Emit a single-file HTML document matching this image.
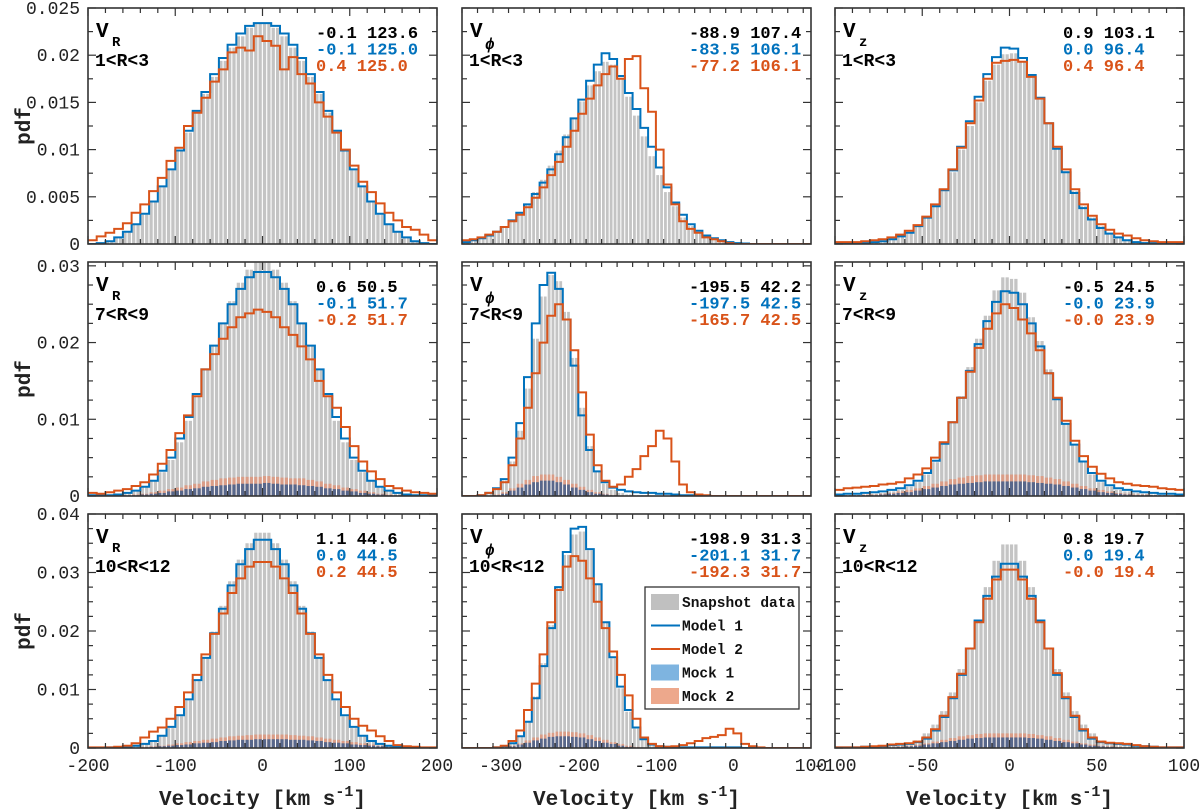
<!DOCTYPE html>
<html><head><meta charset="utf-8"><style>
html,body{margin:0;padding:0;background:#fff;width:1200px;height:809px;overflow:hidden}
svg{display:block}
text{font-family:"Liberation Mono","DejaVu Sans Mono",monospace}
</style></head><body>
<svg id="fig" width="1200" height="809" viewBox="0 0 1200 809" xmlns="http://www.w3.org/2000/svg"></svg>
<script>
// values in units of 1e-3 pdf
const PDF_SCALE = 0.001;
// ---- row 1 (1<R<3) ----
const r1c1_snapshot=[0,0.1,0.3,0.7,1.3,2.1,3.1,4.4,6.0,7.8,9.8,11.8,13.9,15.9,17.7,19.4,20.8,22.0,22.9,23.3,23.3,22.9,22.0,20.8,19.4,17.7,15.9,13.9,11.8,9.8,7.8,6.0,4.4,3.1,2.1,1.3,0.7,0.3,0.1,0];
const r1c1_model1=[0,0.1,0.3,0.7,1.3,2.1,3.2,4.5,6.1,7.9,9.9,12.0,14.1,16.1,18.0,19.7,21.1,22.3,23.1,23.4,23.4,23.1,22.3,21.1,19.7,18.0,16.1,14.1,12.0,9.9,7.9,6.1,4.5,3.2,2.1,1.3,0.7,0.3,0.1,0];
const r1c1_model2=[0.4,0.8,1.2,1.6,2.2,3.3,4.2,5.6,7.0,8.8,10.2,12.5,13.9,15.5,17.2,18.5,20.3,20.8,20.5,22.0,21.5,21.0,18.5,19.8,18.0,17.0,15.0,13.5,11.8,10.0,8.3,6.6,5.5,4.3,3.3,2.5,1.8,1.5,1.0,0.4];
const r1c1_mock1=[];
const r1c1_mock2=[];
const r1c2_snapshot=[0.2,0.4,0.6,0.9,1.3,1.8,2.5,3.3,4.3,5.5,6.8,8.3,9.9,11.6,13.4,15.1,16.8,18.3,19.3,19.0,17.5,15.6,13.6,11.4,9.3,7.3,5.5,4.0,2.8,1.9,1.2,0.8,0.5,0.3,0.2,0.1,0.05,0,0,0,0,0,0,0,0];
const r1c2_model1=[0.2,0.4,0.6,0.9,1.3,1.8,2.5,3.3,4.2,5.3,6.5,7.9,9.5,11.3,13.3,15.3,17.3,19.0,20.2,19.6,17.8,16.0,14.3,12.3,10.3,8.1,6.0,4.4,3.1,2.1,1.4,0.9,0.6,0.4,0.2,0.1,0.05,0,0,0,0,0,0,0,0];
const r1c2_model2=[0.4,0.5,0.7,1.0,1.3,1.8,2.4,3.1,3.9,4.9,6.0,7.3,8.7,10.3,12.0,13.8,15.4,16.8,18.0,18.8,17.5,19.6,19.9,16.5,14.0,10.0,6.3,4.2,2.4,1.6,1.2,0.7,0.5,0.3,0.1,0,0,0,0,0,0,0,0,0,0];
const r1c2_mock1=[];
const r1c2_mock2=[];
const r1c3_snapshot=[0.05,0.05,0.1,0.1,0.2,0.3,0.5,0.8,1.2,1.9,2.8,4.0,5.6,7.6,10.0,12.5,15.0,17.3,19.0,20.1,20.2,19.3,17.6,15.3,12.7,10.1,7.7,5.6,4.0,2.8,1.9,1.2,0.8,0.5,0.3,0.2,0.1,0.1,0.05,0.05];
const r1c3_model1=[0.05,0.05,0.1,0.1,0.2,0.3,0.5,0.8,1.2,1.9,2.8,4.0,5.7,7.8,10.3,13.0,15.6,18.0,19.8,20.8,20.7,19.7,17.9,15.5,12.8,10.1,7.6,5.4,3.8,2.6,1.7,1.1,0.7,0.4,0.2,0.1,0.1,0.05,0.05,0.05];
const r1c3_model2=[0.2,0.2,0.2,0.3,0.4,0.5,0.7,1.0,1.4,2.0,2.9,4.2,5.8,7.9,10.2,12.8,15.2,17.5,19.2,19.4,19.5,19.3,17.7,15.4,12.8,10.3,7.9,5.8,4.2,3.0,2.1,1.5,1.1,0.9,0.6,0.4,0.3,0.2,0.2,0.2];
const r1c3_mock1=[];
const r1c3_mock2=[];
// ---- row 2 (7<R<9) ----
const r2c1_snapshot=[0.1,0.1,0.1,0.2,0.4,0.6,1.1,1.9,3.1,4.7,7.0,9.8,13.0,16.4,19.7,22.6,25.4,27.8,29.5,30.4,30.4,29.5,27.8,25.4,22.6,19.7,16.4,13.0,9.8,7.0,4.7,3.1,1.9,1.1,0.6,0.4,0.2,0.1,0.1,0.1];
const r2c1_model1=[0.1,0.1,0.1,0.2,0.4,0.7,1.2,2.0,3.3,5.0,7.5,10.3,13.3,16.5,19.6,22.5,25.0,27.0,28.5,29.2,29.2,28.5,27.0,25.0,22.5,19.6,16.5,13.3,10.3,7.5,5.0,3.3,2.0,1.2,0.7,0.4,0.2,0.1,0.1,0.1];
const r2c1_model2=[0.4,0.3,0.5,0.7,0.9,1.3,1.8,2.8,4.2,6.0,8.2,10.5,13.0,16.5,18.5,20.5,22.0,23.3,23.8,24.3,24.0,23.3,22.0,21.0,19.5,17.8,15.0,13.0,11.5,9.0,6.5,4.5,3.2,2.2,1.3,1.0,0.7,0.5,0.4,0.3];
const r2c1_mock2=[0,0,0,0.1,0.1,0.2,0.3,0.5,0.7,0.9,1.1,1.4,1.6,1.9,2.1,2.3,2.4,2.5,2.5,2.5,2.6,2.5,2.4,2.3,2.3,2.1,1.9,1.6,1.4,1.1,0.9,0.7,0.5,0.3,0.2,0.1,0.1,0,0,0];
const r2c1_mock1=[0,0,0,0,0.1,0.1,0.2,0.3,0.4,0.6,0.7,0.9,1.0,1.2,1.3,1.4,1.5,1.6,1.6,1.6,1.7,1.6,1.5,1.5,1.4,1.3,1.2,1.0,0.9,0.7,0.6,0.4,0.3,0.2,0.1,0.1,0,0,0,0];
const r2c2_snapshot=[0,0,0.1,0.3,0.8,2.0,4.5,8.5,14.0,20.5,26.0,28.8,28.0,24.0,18.0,11.5,6.5,3.3,1.6,0.8,0.4,0.2,0.1,0.1,0,0,0,0,0,0,0,0,0,0,0,0,0,0,0,0,0,0,0,0,0];
const r2c2_model1=[0,0,0.1,0.4,1.0,2.2,5.0,9.5,15.5,22.5,27.5,29.1,27.0,23.0,17.0,10.5,6.0,3.2,1.8,1.1,0.8,0.6,0.5,0.4,0.4,0.3,0.3,0.2,0.1,0.1,0.05,0,0,0,0,0,0,0,0,0,0,0,0,0,0];
const r2c2_model2=[0,0,0.1,0.4,0.9,1.8,4.0,7.5,11.5,16.0,20.0,23.5,25.0,23.0,19.0,13.5,8.0,4.0,2.0,1.2,1.5,2.5,3.5,5.2,6.5,8.5,7.5,4.5,1.5,0.5,0.2,0.1,0,0,0,0,0,0,0,0,0,0,0,0,0];
const r2c2_mock2=[0,0,0,0,0.2,0.5,1.0,1.6,2.1,2.6,2.8,2.8,2.5,2.1,1.6,1.2,0.8,0.5,0.3,0.15,0,0,0,0,0,0,0,0,0,0,0,0,0,0,0,0,0,0,0,0,0,0,0,0,0];
const r2c2_mock1=[0,0,0,0,0.1,0.3,0.7,1.1,1.5,1.8,2.0,2.0,1.8,1.5,1.1,0.8,0.5,0.3,0.2,0.1,0,0,0,0,0,0,0,0,0,0,0,0,0,0,0,0,0,0,0,0,0,0,0,0,0];
const r2c3_snapshot=[0.1,0.1,0.1,0.2,0.3,0.4,0.6,0.8,1.2,1.8,2.8,4.4,6.7,9.6,13.0,16.8,20.5,23.5,26.8,28.5,28.3,26.5,23.3,20.2,16.5,12.8,9.4,6.6,4.4,2.8,1.8,1.2,0.8,0.6,0.4,0.3,0.2,0.1,0.1,0.1];
const r2c3_model1=[0.2,0.3,0.3,0.4,0.5,0.6,0.8,1.0,1.4,2.0,3.0,4.6,6.8,9.6,12.8,16.3,19.8,22.8,25.3,26.7,26.5,25.0,22.5,19.5,16.0,12.6,9.4,6.7,4.5,3.0,2.0,1.4,1.0,0.8,0.6,0.5,0.4,0.3,0.3,0.2];
const r2c3_model2=[0.8,1.0,1.1,1.2,1.3,1.5,1.6,1.8,2.3,2.8,3.6,5.0,7.0,9.6,12.8,16.2,19.3,21.8,23.8,25.0,24.5,23.0,21.2,19.0,16.0,12.8,9.8,7.2,5.2,3.8,2.9,2.3,1.8,1.6,1.4,1.3,1.2,1.0,0.9,0.8];
const r2c3_mock2=[0.1,0.1,0.1,0.2,0.2,0.3,0.4,0.6,0.8,1.0,1.3,1.6,1.9,2.2,2.4,2.6,2.7,2.8,2.8,2.8,2.8,2.8,2.7,2.6,2.4,2.2,1.9,1.6,1.3,1.0,0.8,0.6,0.4,0.3,0.2,0.2,0.1,0.1,0.1,0.1];
const r2c3_mock1=[0,0.1,0.1,0.1,0.1,0.2,0.3,0.4,0.5,0.7,0.9,1.1,1.3,1.5,1.6,1.7,1.8,1.9,1.9,1.9,1.9,1.9,1.8,1.7,1.6,1.5,1.3,1.1,0.9,0.7,0.5,0.4,0.3,0.2,0.1,0.1,0.1,0.1,0,0];
// ---- row 3 (10<R<12) ----
const r3c1_snapshot=[0,0,0.1,0.1,0.2,0.3,0.6,1.1,2.0,3.4,5.4,8.1,11.5,15.5,19.9,24.3,28.5,32.2,35.0,36.8,36.8,35.0,32.2,28.5,24.3,19.9,15.5,11.5,8.1,5.4,3.4,2.0,1.1,0.6,0.3,0.2,0.1,0.1,0,0];
const r3c1_model1=[0,0,0.1,0.1,0.2,0.4,0.7,1.2,2.1,3.6,5.6,8.3,11.6,15.4,19.6,23.8,27.8,31.4,34.0,35.6,35.6,34.0,31.4,27.8,23.8,19.6,15.4,11.6,8.3,5.6,3.6,2.1,1.2,0.7,0.4,0.2,0.1,0.1,0,0];
const r3c1_model2=[0.1,0.1,0.1,0.2,0.4,0.8,1.8,2.8,3.5,5.0,7.0,9.5,12.5,16.0,19.5,23.0,26.5,29.0,31.0,31.8,31.8,31.0,29.0,26.5,23.0,19.5,16.0,12.5,9.5,7.0,5.0,3.8,3.0,2.0,1.2,0.5,0.3,0.2,0.1,0.1];
const r3c1_mock2=[0,0,0,0,0.1,0.1,0.2,0.3,0.4,0.6,0.8,1.0,1.2,1.4,1.6,1.8,2.0,2.1,2.2,2.3,2.3,2.3,2.3,2.2,2.1,2.0,1.8,1.6,1.4,1.2,1.0,0.8,0.6,0.4,0.3,0.2,0.1,0.1,0,0];
const r3c1_mock1=[0,0,0,0,0,0.1,0.1,0.2,0.3,0.4,0.5,0.6,0.8,0.9,1.0,1.2,1.3,1.4,1.4,1.5,1.5,1.5,1.5,1.4,1.4,1.3,1.2,1.0,0.9,0.8,0.6,0.5,0.4,0.3,0.2,0.1,0.1,0,0,0];
const r3c2_snapshot=[0,0,0,0,0.1,0.3,0.8,2.1,4.6,8.8,14.5,21.0,27.5,33.0,36.5,37.0,33.8,28.0,21.5,15.3,10.2,6.2,3.3,1.4,0.5,0.2,0.1,0,0,0,0,0,0,0,0,0,0,0,0,0,0,0,0,0,0];
const r3c2_model1=[0,0,0,0,0.1,0.3,0.8,2.0,4.5,8.5,14.0,20.5,27.5,33.5,37.5,37.8,34.0,28.0,21.5,15.5,10.5,6.5,3.5,1.5,0.6,0.3,0.2,0.1,0.1,0.1,0.1,0.1,0.1,0.1,0.1,0.1,0,0,0,0,0,0,0,0,0];
const r3c2_model2=[0,0,0,0,0.1,0.4,1.2,3.0,6.5,11.0,16.0,21.5,27.0,31.0,32.8,32.0,29.0,25.0,20.5,16.5,12.5,9.0,5.0,1.8,0.7,0.3,0.2,0.3,0.5,0.8,1.2,1.7,1.9,2.2,3.3,2.5,0.7,0.3,0.1,0,0,0,0,0,0];
const r3c2_mock2=[0,0,0,0,0,0.2,0.4,0.8,1.3,1.8,2.3,2.6,2.8,2.8,2.7,2.5,2.2,1.8,1.4,1.0,0.7,0.4,0.2,0.1,0,0,0,0,0,0,0,0,0,0,0,0,0,0,0,0,0,0,0,0,0];
const r3c2_mock1=[0,0,0,0,0,0.1,0.3,0.6,0.9,1.3,1.6,1.9,2.0,2.0,1.9,1.8,1.5,1.2,0.9,0.7,0.4,0.2,0.1,0,0,0,0,0,0,0,0,0,0,0,0,0,0,0,0,0,0,0,0,0,0];
const r3c3_snapshot=[0.1,0.1,0.1,0.2,0.2,0.3,0.5,0.6,0.8,1.3,2.5,4.0,6.3,9.5,13.5,17.0,21.5,27.5,32.0,34.8,34.8,32.0,27.5,21.5,17.0,13.5,9.5,6.3,4.0,2.5,1.3,0.9,0.7,0.6,0.4,0.3,0.2,0.1,0.1,0.1];
const r3c3_model1=[0.1,0.1,0.1,0.2,0.2,0.3,0.5,0.6,0.7,1.0,1.6,3.0,5.3,8.5,12.5,17.0,21.8,26.0,29.3,31.5,31.5,29.3,26.0,21.8,17.0,12.5,8.5,5.3,3.0,1.6,1.0,0.8,0.7,0.6,0.4,0.3,0.2,0.1,0.1,0.1];
const r3c3_model2=[0.1,0.1,0.1,0.2,0.3,0.4,0.6,0.7,0.8,1.1,1.8,3.2,5.5,8.7,12.7,17.0,21.5,25.5,28.8,30.5,30.5,28.8,25.5,21.5,17.0,12.8,8.7,5.5,3.2,1.8,1.1,0.9,0.8,0.7,0.5,0.3,0.2,0.1,0.1,0.1];
const r3c3_mock2=[0,0,0,0,0.1,0.1,0.2,0.3,0.4,0.6,0.8,1.1,1.4,1.7,2.0,2.2,2.4,2.5,2.5,2.5,2.5,2.5,2.4,2.2,2.0,1.7,1.4,1.1,0.8,0.6,0.4,0.3,0.2,0.1,0.1,0,0,0,0,0];
const r3c3_mock1=[0,0,0,0,0,0.1,0.1,0.2,0.3,0.4,0.6,0.8,1.0,1.2,1.4,1.6,1.7,1.8,1.8,1.8,1.8,1.8,1.7,1.6,1.4,1.2,1.0,0.8,0.6,0.4,0.3,0.2,0.1,0.1,0,0,0,0,0,0];

// stats text
const statLines=[
 [["-0.1 123.6","-0.1 125.0","0.4 125.0"],["-88.9 107.4","-83.5 106.1","-77.2 106.1"],["0.9 103.1","0.0 96.4","0.4 96.4"]],
 [["0.6 50.5","-0.1 51.7","-0.2 51.7"],["-195.5 42.2","-197.5 42.5","-165.7 42.5"],["-0.5 24.5","-0.0 23.9","-0.0 23.9"]],
 [["1.1 44.6","0.0 44.5","0.2 44.5"],["-198.9 31.3","-201.1 31.7","-192.3 31.7"],["0.8 19.7","0.0 19.4","-0.0 19.4"]]
];
const rangeLabels=["1<R<3","7<R<9","10<R<12"];
const compNames=[["V","R"],["V","\u03d5"],["V","z"]];
const xTickLabels=[[-200,-100,0,100,200],[-300,-200,-100,0,100],[-100,-50,0,50,100]];
const yTickLabels=[["0","0.005","0.01","0.015","0.02","0.025"],["0","0.01","0.02","0.03"],["0","0.01","0.02","0.03","0.04"]];
const yTickValues=[[0,0.005,0.01,0.015,0.02,0.025],[0,0.01,0.02,0.03],[0,0.01,0.02,0.03,0.04]];

// axes layout
const xAx=[{min:-200,max:200,left:88,right:437,bin:10,minor:20,sx:316},{min:-350,max:100,left:462,right:811,bin:10,minor:20,sx:689},{min:-100,max:100,left:835,right:1184,bin:5,minor:10,sx:1063}];
const yAx=[{max:0.025,top:8,bottom:244,minor:0.0025},{max:0.0305,top:262,bottom:496,minor:0.0025},{max:0.04,top:514,bottom:748,minor:0.0025}];

const BLUE="#0072BD",ORANGE="#D95319";
const NS="http://www.w3.org/2000/svg";
const svg=document.getElementById('fig');
function mk(tag,attrs,parent){const e=document.createElementNS(NS,tag);for(const k in attrs)e.setAttribute(k,attrs[k]);(parent||svg).appendChild(e);return e;}
function xs(c,v){const a=xAx[c];return a.left+(v-a.min)/(a.max-a.min)*(a.right-a.left);}
function ys(r,v){const a=yAx[r];return a.bottom-(v/a.max)*(a.bottom-a.top);}

const DATA={r1c1:[r1c1_snapshot,r1c1_model1,r1c1_model2,r1c1_mock1,r1c1_mock2],r1c2:[r1c2_snapshot,r1c2_model1,r1c2_model2,r1c2_mock1,r1c2_mock2],r1c3:[r1c3_snapshot,r1c3_model1,r1c3_model2,r1c3_mock1,r1c3_mock2],
r2c1:[r2c1_snapshot,r2c1_model1,r2c1_model2,r2c1_mock1,r2c1_mock2],r2c2:[r2c2_snapshot,r2c2_model1,r2c2_model2,r2c2_mock1,r2c2_mock2],r2c3:[r2c3_snapshot,r2c3_model1,r2c3_model2,r2c3_mock1,r2c3_mock2],
r3c1:[r3c1_snapshot,r3c1_model1,r3c1_model2,r3c1_mock1,r3c1_mock2],r3c2:[r3c2_snapshot,r3c2_model1,r3c2_model2,r3c2_mock1,r3c2_mock2],r3c3:[r3c3_snapshot,r3c3_model1,r3c3_model2,r3c3_mock1,r3c3_mock2]};

// each bin is drawn as two thin bars (visual hatching like the original fine binning)
const SUB=2;
function bars(g,r,c,arr,fill,name){
  const a=xAx[c];
  arr.forEach((v,i)=>{
    const x0=xs(c,a.min+i*a.bin),x1=xs(c,a.min+(i+1)*a.bin);
    const y=ys(r,Math.min(v*PDF_SCALE,yAx[r].max));
    const w=(x1-x0)/SUB;
    for(let s=0;s<SUB;s++){
      const el=mk('rect',{x:x0+s*w+0.4,y:y,width:Math.max(0.5,w-1.1),height:Math.max(0,yAx[r].bottom-y),fill:fill},g);
      
      
    }
  });
}
function stepLine(g,r,c,arr,color,name){
  const a=xAx[c];let d='';
  arr.forEach((v,i)=>{
    const x0=xs(c,a.min+i*a.bin),x1=xs(c,a.min+(i+1)*a.bin),y=ys(r,Math.min(v*PDF_SCALE,yAx[r].max));
    d+=(i===0?'M':'L')+x0.toFixed(1)+','+y.toFixed(1)+'H'+x1.toFixed(1);
  });
  const el=mk('path',{d:d,fill:'none',stroke:color,'stroke-width':2,'stroke-linejoin':'miter'},g);
  
  
}

for(let r=0;r<3;r++)for(let c=0;c<3;c++){
  const key='r'+(r+1)+'c'+(c+1);const [snap,m1,m2,k1,k2]=DATA[key];
  const xa=xAx[c],ya=yAx[r];
  const g=mk('g',{});
  
  
  const clip=mk('clipPath',{id:'cp'+key},g);mk('rect',{x:xa.left,y:ya.top,width:xa.right-xa.left,height:ya.bottom-ya.top},clip);
  const pg=mk('g',{'clip-path':'url(#cp'+key+')'},g);
  bars(pg,r,c,snap,'#c4c4c4','snapshot');
  bars(pg,r,c,k2,'rgba(236,125,85,0.55)','mock2');
  bars(pg,r,c,k1,'rgba(55,90,140,0.8)','mock1');
  stepLine(pg,r,c,m1,BLUE,'model1');
  stepLine(pg,r,c,m2,ORANGE,'model2');
  // ticks
  for(let v=xa.min;v<=xa.max+1e-9;v+=xa.minor){
    const x=xs(c,v);const major=(Math.abs(v%100)<1e-9)||(c===2&&Math.abs(v%50)<1e-9);const L=major?8:5;
    mk('line',{x1:x,y1:ya.bottom,x2:x,y2:ya.bottom-L,stroke:'#333','stroke-width':1.2},g);
    mk('line',{x1:x,y1:ya.top,x2:x,y2:ya.top+L,stroke:'#333','stroke-width':1.2},g);
  }
  for(let v=0;v<=ya.max+1e-9;v+=ya.minor){
    const y=ys(r,v);const st=(r===0?0.005:0.01);const major=Math.abs((v/st)-Math.round(v/st))<1e-6;const L=major?8:5;
    mk('line',{x1:xa.left,y1:y,x2:xa.left+L,y2:y,stroke:'#333','stroke-width':1.2},g);
    mk('line',{x1:xa.right,y1:y,x2:xa.right-L,y2:y,stroke:'#333','stroke-width':1.2},g);
  }
  const fr=mk('rect',{x:xa.left,y:ya.top,width:xa.right-xa.left,height:ya.bottom-ya.top,fill:'none',stroke:'#333','stroke-width':1.6},g);
  
  
  // labels
  const t1=mk('text',{x:xa.left+8,y:ya.top+29,'font-size':21,'font-weight':'bold',fill:'#000'},g);t1.textContent=compNames[c][0];
  
  
  const t1s=mk('text',{x:xa.left+(c===1?23:24),y:ya.top+(c===1?41:38),'font-size':c===1?16:14,'font-weight':'bold','font-style':c===1?'italic':'normal',fill:'#000'},g);
  t1s.textContent=compNames[c][1];
  
  
  const t2=mk('text',{x:xa.left+7,y:ya.top+58,'font-size':18,'font-weight':'bold',fill:'#000'},g);t2.textContent=rangeLabels[r];
  
  
  const cols=['#000',BLUE,ORANGE];
  statLines[r][c].forEach((s,i)=>{const t=mk('text',{x:xa.sx,y:ya.top+30+i*16.5,'font-size':17,'font-weight':'bold',fill:cols[i]},g);t.textContent=s;
    
    });
  if(c===0){yTickLabels[r].forEach((s,i)=>{const t=mk('text',{x:80,y:ys(r,yTickValues[r][i])+6,'font-size':18,'text-anchor':'end',fill:'#222'},svg);t.textContent=s;
    
    });
    const yl=mk('text',{x:0,y:0,'font-size':21,'font-weight':'bold','text-anchor':'middle',fill:'#222',transform:'translate(30,'+((ya.top+ya.bottom)/2)+') rotate(-90)'},svg);yl.textContent='pdf';
    
    }
  if(r===2){xTickLabels[c].forEach(v=>{const t=mk('text',{x:xs(c,v),y:771,'font-size':18,'text-anchor':'middle',fill:'#222'},svg);t.textContent=String(v);
    
    });
    const xt=mk('text',{x:(xa.left+xa.right)/2,y:805,'font-size':21,'font-weight':'bold','text-anchor':'middle',fill:'#222'},svg);
    xt.innerHTML='Velocity [km s<tspan dy="-9" font-size="15">-1</tspan><tspan dy="9">]</tspan>';
    
    }
}
// legend
const lg=mk('g',{});


mk('rect',{x:645,y:587,width:154,height:122,fill:'#fff',stroke:'#333','stroke-width':1.3},lg);
const legItems=[['Snapshot data','box','#c0c0c0'],['Model 1','line',BLUE],['Model 2','line',ORANGE],['Mock 1','box','#7eb4e0'],['Mock 2','box','#eda88c']];
legItems.forEach((it,i)=>{const cy=602+i*23.5;
  if(it[1]==='box')mk('rect',{x:651,y:cy-8,width:28,height:16,fill:it[2]},lg);else mk('line',{x1:651,y1:cy,x2:680,y2:cy,stroke:it[2],'stroke-width':2},lg);
  const t=mk('text',{x:682,y:cy+5,'font-size':14.5,'font-weight':'bold',fill:'#111'},lg);t.textContent=it[0];
  
  });
</script>
</body></html>
